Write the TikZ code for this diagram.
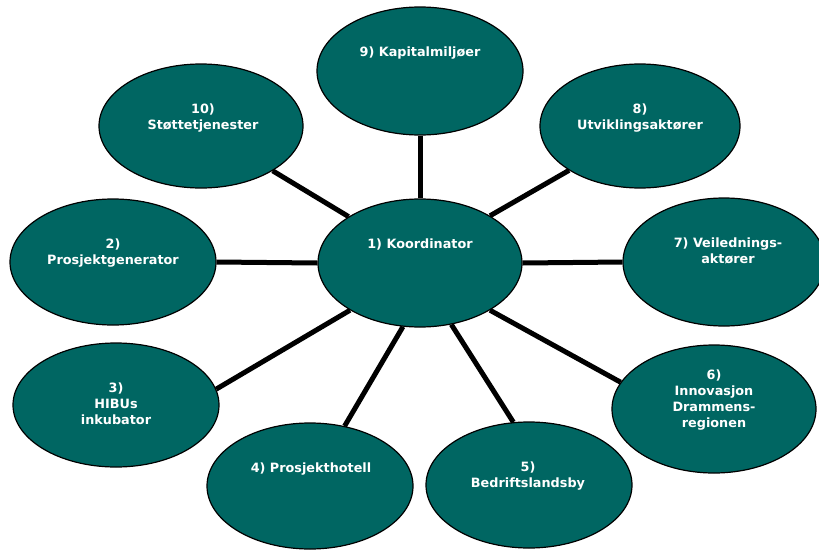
\documentclass[tikz,border=0pt]{standalone}
\usepackage{fontspec}
\setmainfont{DejaVu Sans}
\usetikzlibrary{positioning,shapes.geometric,backgrounds}

\definecolor{unitteal}{RGB}{0,102,98}

\tikzset{
  unit/.style 2 args={ellipse, draw=black, line width=1.2pt, fill=unitteal, inner sep=0pt,
    minimum width=#1pt, minimum height=#2pt},
  unittext/.style={anchor=north, inner sep=0pt, text=white, align=center,
    font=\bfseries\fontsize{12.8}{16}\selectfont},
  link/.style={line width=5pt}
}

\begin{document}
\begin{tikzpicture}[x=1pt,y=1pt,yscale=-1,xscale=1]
\useasboundingbox (0,0) rectangle (819,549);

% Centre unit
\node[unit={204}{128}] (koord) at (420,263) {};

% Outer units
\node[unit={206}{128}] (kapital) at (420,71) {};
\node[unit={204}{124}] (stotte) at (201,126) {};
\node[unit={200}{124}] (utvikling) at (640,126) {};
\node[unit={206}{126}] (prosjgen) at (113,262) {};
\node[unit={202}{128}] (veiledning) at (724,262) {};
\node[unit={206}{124}] (hibu) at (116,405) {};
\node[unit={204}{128}] (innovasjon) at (714,409) {};
\node[unit={206}{126}] (hotell) at (310,486) {};
\node[unit={206}{126}] (landsby) at (529,485) {};

% Labels
\node[unittext] (koordtxt) at (420,239) {1) Koordinator};
\node[unittext] (prosjgentxt) at (113,239) {2)\\Prosjektgenerator};
\node[unittext] (hibutxt) at (116,383) {3)\\HIBUs\\inkubator};
\node[unittext] (hoteltxt) at (311,463) {4) Prosjekthotell};
\node[unittext] (landsbytxt) at (528,462) {5)\\Bedriftslandsby};
\node[unittext] (innovtxt) at (714,370) {6)\\Innovasjon\\Drammens-\\regionen};
\node[unittext] (veiltxt) at (728,238) {7) Veilednings-\\aktører};
\node[unittext] (utvtxt) at (640,104) {8)\\Utviklingsaktører};
\node[unittext] (kapitaltxt) at (420,47) {9) Kapitalmiljøer};
\node[unittext] (stottetxt) at (203,104) {10)\\Støttetjenester};

% Spokes
\begin{scope}[on background layer]
\foreach \u/\a/\b in {kapital/-90/90, stotte/-32/147, utvikling/-148/34,
    prosjgen/0/180, veiledning/180/0, hibu/9/-146, innovasjon/164/-34,
    hotell/60/-105, landsby/104/-63} {
  \draw[link] (\u.\a) -- (koord.\b);
}
\end{scope}

\end{tikzpicture}
\end{document}
